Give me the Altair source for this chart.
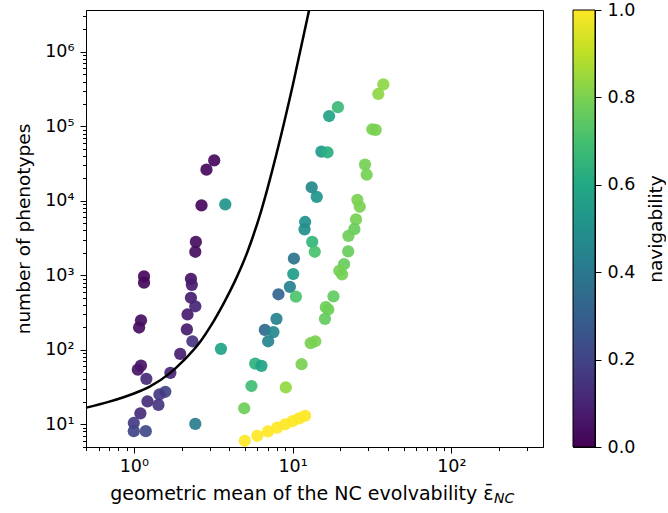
import altair as alt
import pandas as pd

# ---- data ----
evolvability = [3.21, 2.87, 2.67, 2.46, 2.44, 1.16, 1.16, 2.29, 2.32, 2.29,
                2.44, 2.18, 1.11, 1.08, 2.16, 2.34, 1.96, 1.11, 1.06, 1.70,
                1.20, 1.58, 1.45, 1.22, 1.43, 1.10, 1.00, 1.00, 1.19,
                3.77, 3.54, 2.44, 17.0, 19.3, 15.2, 16.6, 13.2, 14.2, 12.0,
                11.9, 13.3, 13.8, 10.2, 10.1, 9.62, 8.15, 10.5, 7.92, 6.69,
                7.58, 7.02, 5.82, 6.37, 5.51, 4.96,
                37.3, 34.7, 31.8, 33.4, 28.6, 29.3, 25.6, 26.5, 25.1, 24.5,
                22.5, 22.4, 21.1, 19.7, 20.5, 18.1, 16.2, 16.8, 16.0, 13.9,
                13.0, 11.4, 9.07,
                5, 6, 7, 8, 9, 10, 11, 12]
phenotypes = [34900, 26200, 8710, 2810, 2070, 967, 797, 895, 745, 499,
              384, 298, 248, 199, 188, 130, 87.9, 61.3, 54.1, 49.0,
              40.7, 27.3, 25.1, 20.3, 18.2, 14.0, 10.4, 8.07, 8.07,
              8980, 103, 10.1, 137700, 181000, 45800, 44900, 15200, 11300, 5200,
              4140, 2810, 2070, 1680, 1040, 700, 556, 518, 260, 185,
              173, 130, 65.2, 60.8, 32.6, 16.4,
              367000, 272000, 91400, 89500, 30700, 22400, 10300, 8320, 5630, 4160,
              3380, 2100, 1410, 1150, 1030, 522, 373, 347, 260, 130,
              123, 64.0, 31.2,
              6, 7, 8, 9, 10, 11, 12, 13]
navigability = [0.02, 0.02, 0.02, 0.03, 0.03, 0.02, 0.02, 0.05, 0.07, 0.08,
                0.10, 0.07, 0.03, 0.03, 0.07, 0.15, 0.08, 0.05, 0.05, 0.10,
                0.12, 0.20, 0.17, 0.12, 0.15, 0.13, 0.17, 0.20, 0.22,
                0.52, 0.58, 0.42, 0.58, 0.68, 0.54, 0.63, 0.47, 0.52, 0.50,
                0.49, 0.66, 0.71, 0.38, 0.55, 0.43, 0.32, 0.72, 0.44, 0.34,
                0.47, 0.45, 0.64, 0.58, 0.69, 0.78,
                0.83, 0.83, 0.80, 0.80, 0.79, 0.79, 0.80, 0.80, 0.79, 0.77,
                0.78, 0.77, 0.77, 0.79, 0.79, 0.76, 0.78, 0.78, 0.76, 0.80,
                0.80, 0.80, 0.84,
                1.0, 1.0, 1.0, 1.0, 1.0, 1.0, 1.0, 1.0]

curve_x = [0.5025, 0.701, 0.993, 1.252, 1.697, 2.078, 2.584, 3.075, 3.711,
           4.416, 5.18, 6.346, 7.885, 10.09, 12.72]
curve_y = [16.7, 20.1, 25.7, 31.8, 49.0, 73.1, 123, 214, 434,
           910, 2023, 7350, 41100, 376000, 3660000]

colorbar_ticks = [0.0, 0.2, 0.4, 0.6, 0.8, 1.0]
viridis_stops = ["#440154", "#482475", "#414487", "#355f8d", "#2a788e",
                 "#21918c", "#22a884", "#44bf70", "#7ad151", "#bddf26", "#fde725"]

# ---- layout / style ----
FONT = "DejaVu Sans"
FS = 17.5
TFS = 18.5
W, H = 457, 437

df = pd.DataFrame({"evolvability": evolvability, "phenotypes": phenotypes,
                   "navigability": navigability})
cdf = pd.DataFrame({"x": curve_x, "y": curve_y})

x_scale = alt.Scale(type="log", domain=[0.5, 378], nice=False)
y_scale = alt.Scale(type="log", domain=[4.95, 3.65e6], nice=False)

x_ticks = [m * 10.0 ** k for k in range(-1, 3) for m in range(1, 10)
           if 0.5 <= m * 10.0 ** k <= 378]
y_ticks = [m * 10.0 ** k for k in range(0, 7) for m in range(1, 10)
           if 4.95 <= m * 10.0 ** k <= 3.65e6]

major = "abs(log(datum.value)/LN10 - round(log(datum.value)/LN10)) < 0.001"
sup = "['⁰','¹','²','³','⁴','⁵','⁶'][round(log(datum.value)/LN10)]"
label_expr = f"({major}) ? '10' + {sup} : ''"
tick_size = {"condition": {"test": major, "value": 6}, "value": 3.5}

x_axis = alt.Axis(values=x_ticks, labelExpr=label_expr, tickSize=tick_size,
                  labelOverlap=False, labelFlush=False, labelPadding=4,
                  title="geometric mean of the NC evolvability ε̄",
                  titleAlign="right", titleX=407, titleY=52,
                  titleBaseline="alphabetic", titleFontSize=19)
y_axis = alt.Axis(values=y_ticks, labelExpr=label_expr, tickSize=tick_size,
                  labelOverlap=False, labelFlush=False, labelPadding=6,
                  title="number of phenotypes", titlePadding=11,
                  titleFontSize=TFS)

points = alt.Chart(df).mark_circle(size=150, opacity=0.92).encode(
    x=alt.X("evolvability:Q", scale=x_scale, axis=x_axis),
    y=alt.Y("phenotypes:Q", scale=y_scale, axis=y_axis),
    color=alt.Color("navigability:Q",
                    scale=alt.Scale(scheme="viridis", domain=[0, 1]),
                    legend=None),
)

curve = alt.Chart(cdf).mark_line(color="black", strokeWidth=2.5,
                                 interpolate="monotone", clip=True).encode(
    x=alt.X("x:Q", scale=x_scale),
    y=alt.Y("y:Q", scale=y_scale),
)

sub = alt.Chart(pd.DataFrame({"t": ["NC"]})).mark_text(
    font=FONT, fontSize=14, fontStyle="italic", align="left",
    baseline="alphabetic", color="black").encode(
    text="t:N", x=alt.value(408), y=alt.value(H + 56))

main = alt.layer(points, curve, sub).properties(width=W, height=H)

grad = alt.LinearGradient(
    gradient="linear",
    stops=[alt.GradientStop(color=c, offset=i / (len(viridis_stops) - 1))
           for i, c in enumerate(viridis_stops)],
    x1=0, x2=0, y1=1, y2=0)

cb = alt.Chart(pd.DataFrame({"lo": [0.0], "hi": [1.0]})).mark_rect(
    fill=grad, stroke="black", strokeWidth=1).encode(
    y=alt.Y("lo:Q", scale=alt.Scale(domain=[0, 1], nice=False),
            axis=alt.Axis(orient="right", values=colorbar_ticks, format=".1f",
                          tickSize=6, labelPadding=6, title="navigability",
                          titleAngle=270, titleBaseline="top", titlePadding=12,
                          titleFontSize=TFS,
                          labelFlush=False, labelOverlap=False)),
    y2="hi:Q",
    x=alt.value(0), x2=alt.value(22),
).properties(width=22, height=H)

chart = alt.hconcat(main, cb, spacing=28).configure_view(
    stroke="black", strokeWidth=1
).configure_axis(
    labelFont=FONT, titleFont=FONT, labelFontSize=FS,
    titleFontWeight="normal", labelColor="black", titleColor="black",
    tickColor="black", domainColor="black", grid=False, tickWidth=1
).properties(padding={"left": 14, "top": 0, "right": 0, "bottom": 0})

chart.save("out.html", embed_options={"renderer": "svg", "actions": False})
